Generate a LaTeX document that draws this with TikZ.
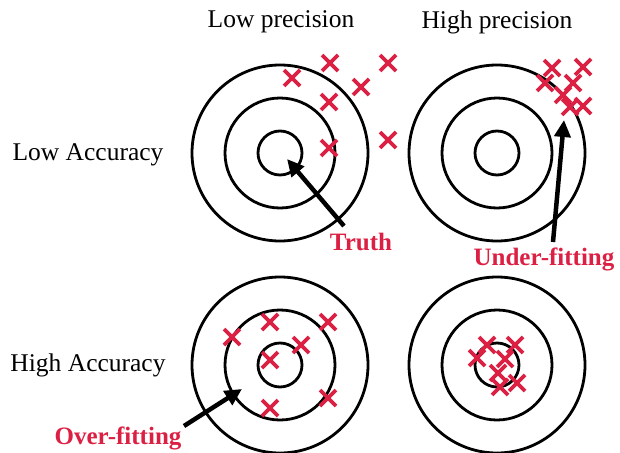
\documentclass[tikz,border=0pt]{standalone}
\usepackage{fontspec}
\setmainfont{Liberation Serif}
\usetikzlibrary{arrows.meta}
\definecolor{xred}{RGB}{220,32,68}
\begin{document}
\begin{tikzpicture}[x=1pt,y=-1pt,
  ring/.style={draw=black,line width=2.8pt},
  crossmark/.style={draw=xred,line width=3.6pt},
  lbl/.style={font=\fontsize{25.5}{28}\selectfont,inner sep=0pt},
  redlbl/.style={font=\fontsize{25}{28}\selectfont\bfseries,text=xred,inner sep=0pt},
  pointer/.style={draw=black,line width=4.5pt,-{Triangle[length=17pt,width=16pt]}}]
\useasboundingbox (0,0) rectangle (620,452);
% targets
\foreach \n/\cx/\cy in {a/280/153,b/497/153,c/280/365,d/497/365}{
  \coordinate (\n) at (\cx,\cy);
  \draw[ring] (\n) circle (88);
  \draw[ring] (\n) circle (55);
  \draw[ring] (\n) circle (22);
}
% labels
\node[lbl] (lp) at (281,22) {Low precision};
\node[lbl] (hp) at (497,22) {High precision};
\node[lbl] (la) at (88,155) {Low Accuracy};
\node[lbl] (ha) at (88,365) {High Accuracy};
% crosses
\foreach \p in {(292,78),(330,63),(388,63),(361,87),(329,102),(329,148),(388,140),
  (552,68),(583,67),(545,83),(573,83),(563,95),(570,107),(583,106),
  (232,337),(270,322),(328,322),(301,345),(270,360),(270,408),(328,398),
  (487,345),(515,345),(477,358),(505,359),(498,373),(517,383),(500,387)}{
  \draw[crossmark] \p +(-8,-8) -- +(8,8) \p +(-8,8) -- +(8,-8);
}
% annotations
\node[redlbl] (truth) at (361,242) {Truth};
\node[redlbl] (under) at (544,259) {Under-fitting};
\node[redlbl] (over) at (118,438) {Over-fitting};
\coordinate (t1) at (344,226);
\coordinate (t2) at (287,159);
\coordinate (u1) at (553,242);
\coordinate (u2) at (564,120);
\coordinate (o1) at (184,426);
\coordinate (o2) at (242,389);
\draw[pointer] (t1) -- (t2);
\draw[pointer] (u1) -- (u2);
\draw[pointer] (o1) -- (o2);
\end{tikzpicture}
\end{document}
